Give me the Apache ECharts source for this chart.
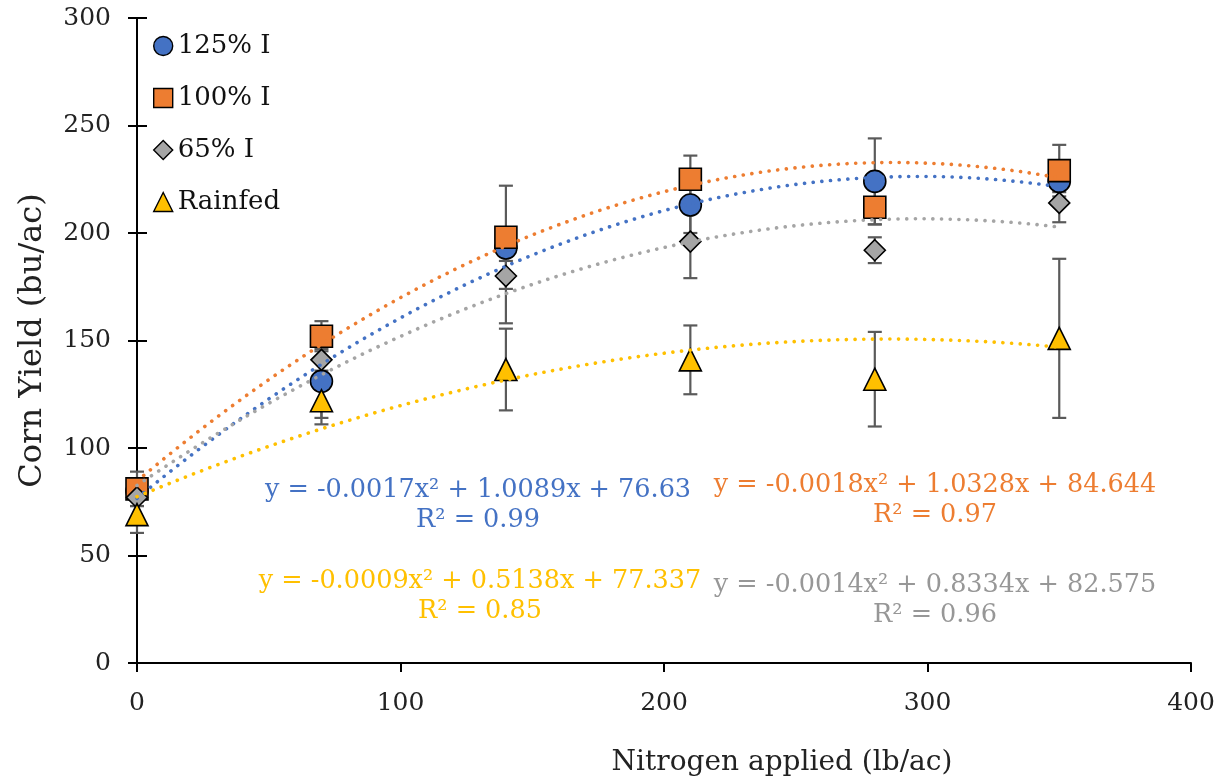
<!DOCTYPE html>
<html>
<head>
<meta charset="utf-8">
<script src="https://cdn.jsdelivr.net/npm/echarts@6/dist/echarts.min.js"></script>
<style>html,body{margin:0;padding:0;background:#fff;}#c{width:1229px;height:784px;}</style>
</head>
<body>
<div id="c"></div>
<script>
// ---- data ----
const nitrogen = [0, 70, 140, 210, 280, 350];
const seriesNames = ['125% I', '100% I', '65% I', 'Rainfed'];
const yield125 = [80, 131, 193, 213, 224, 224];
const err125   = [4, 20, 6, 13, 20, 5];
const yield100 = [81, 152, 198, 225, 212, 229];
const err100   = [8, 7, 24, 11, 8, 12];
const yield65  = [77, 141, 180, 196, 192, 214];
const err65    = [4, 5, 22, 17, 6, 9];
const yieldRain = [69, 122, 136.5, 141, 132, 151];
const errRain   = [8.5, 8, 19, 16, 22, 37];
// trendline coefficients as printed on the chart [a, b, c] for y = a x^2 + b x + c
const coef125 = [-0.0017, 1.0089, 76.63];
const coef100 = [-0.0018, 1.0328, 84.644];
const coef65  = [-0.0014, 0.8334, 82.575];
const coefRain = [-0.0009, 0.5138, 77.337];
const r2 = ['0.99', '0.97', '0.96', '0.85'];
const eqLabels = [
  'y = -0.0017x² + 1.0089x + 76.63',
  'y = -0.0018x² + 1.0328x + 84.644',
  'y = -0.0014x² + 0.8334x + 82.575',
  'y = -0.0009x² + 0.5138x + 77.337'
];
const xTicks = [0, 100, 200, 300, 400];
const yTicks = [0, 50, 100, 150, 200, 250, 300];

const colors = ['#4472C4', '#ED7D31', '#A5A5A5', '#FFC000'];
const textColors = ['#4472C4', '#ED7D31', '#979797', '#FFC000'];
const symbols = ['circle', 'rect', 'diamond', 'triangle'];
const sizes = [22, 22, 21, 22];
const FONT = 'DejaVu Serif';

const ys = [yield125, yield100, yield65, yieldRain];
const errs = [err125, err100, err65, errRain];
const coefs = [coef125, coef100, coef65, coefRain];

function trend(c) {
  const pts = [];
  for (let x = 0; x <= 350; x += 5) pts.push([x, c[0] * x * x + c[1] * x + c[2]]);
  return pts;
}

const series = [];
// error bars (behind markers)
ys.forEach((arr, i) => {
  series.push({
    type: 'custom', name: 'err' + i, z: 2, silent: true,
    data: nitrogen.map((x, j) => [x, arr[j] - errs[i][j], arr[j] + errs[i][j]]),
    renderItem: function (params, api) {
      const lo = api.coord([api.value(0), api.value(1)]);
      const hi = api.coord([api.value(0), api.value(2)]);
      const hw = 7;
      const st = { stroke: '#5a5a5a', lineWidth: 2.2 };
      return {
        type: 'group', children: [
          { type: 'line', shape: { x1: lo[0], y1: lo[1], x2: hi[0], y2: hi[1] }, style: st },
          { type: 'line', shape: { x1: lo[0] - hw, y1: lo[1], x2: lo[0] + hw, y2: lo[1] }, style: st },
          { type: 'line', shape: { x1: hi[0] - hw, y1: hi[1], x2: hi[0] + hw, y2: hi[1] }, style: st }
        ]
      };
    }
  });
});
// markers
ys.forEach((arr, i) => {
  series.push({
    type: 'scatter', name: seriesNames[i], z: 3 + i,
    symbol: symbols[i], symbolSize: sizes[i],
    itemStyle: { color: colors[i], borderColor: '#000', borderWidth: 1.6, opacity: 1 },
    data: nitrogen.map((x, j) => [x, arr[j]])
  });
});
// trendlines (on top)
coefs.forEach((c, i) => {
  series.push({
    type: 'line', name: 'trend' + i, z: 10, silent: true, smooth: false,
    showSymbol: false, symbol: 'none',
    lineStyle: { color: colors[i], width: 3.6, type: [0.1, 8.6], cap: 'round' },
    data: trend(c)
  });
});

const eqPos = [[478, 505], [935, 500], [935, 600], [480, 596]];
const graphics = [];
eqLabels.forEach((t, i) => {
  graphics.push({
    type: 'text', x: eqPos[i][0], y: eqPos[i][1], z: 20,
    style: { text: t + '\nR² = ' + r2[i], fill: textColors[i], font: '25.5px "' + FONT + '"',
      align: 'center', verticalAlign: 'middle', lineHeight: 30 }
  });
});

const chart = echarts.init(document.getElementById('c'), null, { renderer: 'canvas' });
chart.setOption({
  animation: false,
  backgroundColor: '#fff',
  grid: { left: 137, right: 38, top: 18, bottom: 121, containLabel: false },
  legend: {
    orient: 'vertical', left: 148, top: 28,
    itemWidth: 19, itemHeight: 19, itemGap: 26,
    data: seriesNames,
    textStyle: { fontFamily: FONT, fontSize: 26, color: '#111', padding: [0, 0, 0, 0] },
    itemStyle: { borderColor: '#000', borderWidth: 1.4 }
  },
  xAxis: {
    type: 'value', min: xTicks[0], max: xTicks[xTicks.length - 1], interval: 100,
    name: 'Nitrogen applied (lb/ac)', nameLocation: 'middle', nameGap: 86,
    nameTextStyle: { fontFamily: FONT, fontSize: 28, color: '#222', padding: [0, 0, 0, 236] },
    axisLine: { lineStyle: { color: '#000', width: 2 } },
    axisTick: { show: true, length: 9, lineStyle: { color: '#000', width: 2 } },
    axisLabel: { fontFamily: FONT, fontSize: 25, color: '#222', margin: 28 },
    splitLine: { show: false }
  },
  yAxis: [{
    type: 'value', min: yTicks[0], max: yTicks[yTicks.length - 1], interval: 50,
    name: 'Corn Yield (bu/ac)', nameLocation: 'middle', nameGap: 88,
    nameTextStyle: { fontFamily: FONT, fontSize: 32, color: '#222' },
    axisLine: { show: true, lineStyle: { color: '#000', width: 2 } },
    axisTick: { show: true, length: 9, lineStyle: { color: '#000', width: 2 } },
    axisLabel: { fontFamily: FONT, fontSize: 25, color: '#222', margin: 26 },
    splitLine: { show: false }
  }, {
    type: 'value', min: 0, max: 300, interval: 50, position: 'left',
    axisLine: { show: false },
    axisTick: { show: true, inside: true, length: 10, lineStyle: { color: '#000', width: 2 } },
    axisLabel: { show: false }, splitLine: { show: false }
  }],
  graphic: graphics,
  series: series
});
</script>
</body>
</html>
